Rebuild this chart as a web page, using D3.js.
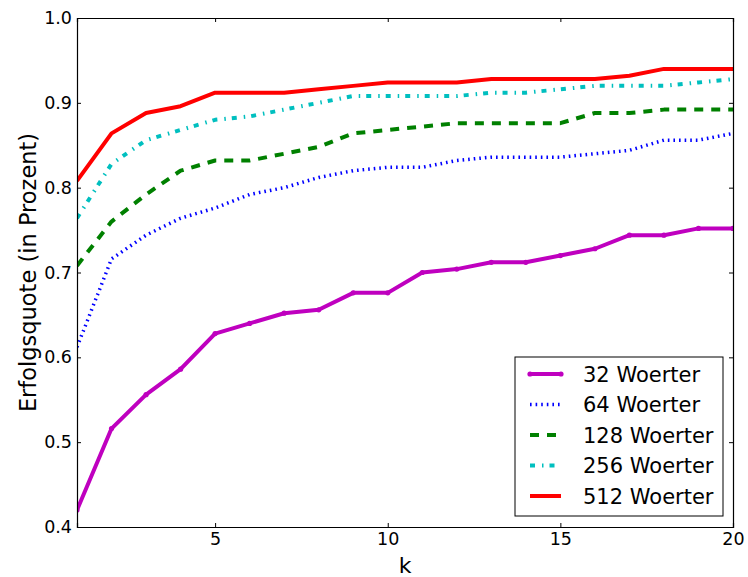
<!DOCTYPE html>
<html>
<head>
<meta charset="utf-8">
<script src="https://d3js.org/d3.v7.min.js"></script>
<style>
  body { margin: 0; background: #fff; }
  text { font-family: "DejaVu Sans", sans-serif; fill: #000; }
</style>
</head>
<body>
<svg id="chart"></svg>
<script>
const K_VALUES = d3.range(1, 21)

const WORDS_32 = [0.420, 0.516, 0.556, 0.586, 0.628, 0.640, 0.652, 0.656, 0.676, 0.676,
                  0.700, 0.704, 0.712, 0.712, 0.720, 0.728, 0.744, 0.744, 0.752, 0.752]
const WORDS_64 = [0.612, 0.716, 0.744, 0.764, 0.776, 0.792, 0.800, 0.812, 0.820, 0.824,
                  0.824, 0.832, 0.836, 0.836, 0.836, 0.840, 0.844, 0.856, 0.856, 0.864]
const WORDS_128 = [0.708, 0.760, 0.792, 0.820, 0.832, 0.832, 0.840, 0.848, 0.864, 0.868,
                   0.872, 0.876, 0.876, 0.876, 0.876, 0.888, 0.888, 0.892, 0.892, 0.892]
const WORDS_256 = [0.764, 0.828, 0.856, 0.868, 0.880, 0.884, 0.892, 0.900, 0.908, 0.908,
                   0.908, 0.908, 0.912, 0.912, 0.916, 0.920, 0.920, 0.920, 0.924, 0.928]
const WORDS_512 = [0.808, 0.864, 0.888, 0.896, 0.912, 0.912, 0.912, 0.916, 0.920, 0.924,
                   0.924, 0.924, 0.928, 0.928, 0.928, 0.928, 0.932, 0.940, 0.940, 0.940]

const SERIES_LABELS = ["32 Woerter", "64 Woerter", "128 Woerter", "256 Woerter", "512 Woerter"]
const X_TICKS = [5, 10, 15, 20]
const Y_TICKS = [0.4, 0.5, 0.6, 0.7, 0.8, 0.9, 1.0]

const X_LABEL = "k"
const Y_LABEL = "Erfolgsquote (in Prozent)"

// line styles per series
const styles = [
    { color: "#bf00bf", width: 4, dash: null, dots: true },
    { color: "#0000ff", width: 3.5, dash: "1.6,4", dots: false },
    { color: "#008000", width: 4, dash: "9,8", dots: false },
    { color: "#00bfbf", width: 4, dash: "5,7,1.5,6", dots: false },
    { color: "#ff0000", width: 4, dash: null, dots: false }
]

const allSeries = [WORDS_32, WORDS_64, WORDS_128, WORDS_256, WORDS_512]

const W = 748, H = 577
const margin = { top: 18, right: 15, bottom: 50, left: 77 }
const width = W - margin.left - margin.right
const height = H - margin.top - margin.bottom

const svg = d3.select("#chart")
    .attr("width", W)
    .attr("height", H)

const g = svg.append("g")
    .attr("transform", "translate(" + margin.left + "," + margin.top + ")")

const x = d3.scaleLinear().domain([1, 20]).range([0, width])
const y = d3.scaleLinear().domain([0.4, 1.0]).range([height, 0])

g.append("clipPath").attr("id", "clip")
    .append("rect").attr("width", width).attr("height", height)

const line = d3.line()
    .x((d, i) => x(K_VALUES[i]))
    .y(d => y(d))

const plot = g.append("g").attr("clip-path", "url(#clip)")

allSeries.forEach(function (values, s)
{
    const st = styles[s]
    plot.append("path")
        .datum(values)
        .attr("fill", "none")
        .attr("stroke", st.color)
        .attr("stroke-width", st.width)
        .attr("stroke-dasharray", st.dash)
        .attr("stroke-linejoin", "round")
        .attr("d", line)
    if (st.dots)
    {
        plot.selectAll(null)
            .data(values)
            .enter().append("circle")
            .attr("cx", (d, i) => x(K_VALUES[i]))
            .attr("cy", d => y(d))
            .attr("r", 2.6)
            .attr("fill", st.color)
    }
})

// axes, ticks pointing inward on all four sides
const fmt = d3.format(".1f")
const tickLen = 4

g.append("g")
    .attr("class", "x-axis")
    .attr("transform", "translate(0," + height + ")")
    .call(d3.axisBottom(x).tickValues(X_TICKS).tickSize(-tickLen).tickPadding(6).tickFormat(d3.format("d")))

g.append("g")
    .attr("class", "x-axis-top")
    .call(d3.axisTop(x).tickValues(X_TICKS).tickSize(-tickLen).tickFormat(""))

g.append("g")
    .attr("class", "y-axis")
    .call(d3.axisLeft(y).tickValues(Y_TICKS).tickSize(-tickLen).tickPadding(5).tickFormat(fmt))

g.append("g")
    .attr("class", "y-axis-right")
    .attr("transform", "translate(" + width + ",0)")
    .call(d3.axisRight(y).tickValues(Y_TICKS).tickSize(-tickLen).tickFormat(""))

g.selectAll(".domain").attr("stroke", "#000").attr("stroke-width", 1.2)
g.selectAll(".tick line").attr("stroke", "#000")
g.selectAll(".tick text")
    .style("font-family", "DejaVu Sans, sans-serif")
    .style("font-size", "17.5px")

svg.append("text")
    .attr("x", margin.left + width / 2)
    .attr("y", H - 4)
    .attr("text-anchor", "middle")
    .style("font-size", "22px")
    .text(X_LABEL)

svg.append("text")
    .attr("transform", "translate(36," + (margin.top + height / 2) + ") rotate(-90)")
    .attr("text-anchor", "middle")
    .style("font-size", "22.5px")
    .text(Y_LABEL)

// legend
const legend = g.append("g")
    .attr("transform", "translate(" + (515 - margin.left) + "," + (357 - margin.top) + ")")

legend.append("rect")
    .attr("width", 208)
    .attr("height", 159)
    .attr("fill", "#fff")
    .attr("stroke", "#000")
    .attr("stroke-width", 1)

SERIES_LABELS.forEach(function (label, i)
{
    const st = styles[i]
    const ly = 17 + i * 30.5
    legend.append("line")
        .attr("x1", 15).attr("x2", 46)
        .attr("y1", ly).attr("y2", ly)
        .attr("stroke", st.color)
        .attr("stroke-width", st.width)
        .attr("stroke-dasharray", st.dash)
    if (st.dots)
    {
        legend.selectAll(null)
            .data([15, 46])
            .enter().append("circle")
            .attr("cx", d => d).attr("cy", ly).attr("r", 2.6)
            .attr("fill", st.color)
    }
    legend.append("text")
        .attr("x", 68)
        .attr("y", ly + 7.5)
        .style("font-size", "21px")
        .text(label)
})
</script>
</body>
</html>
